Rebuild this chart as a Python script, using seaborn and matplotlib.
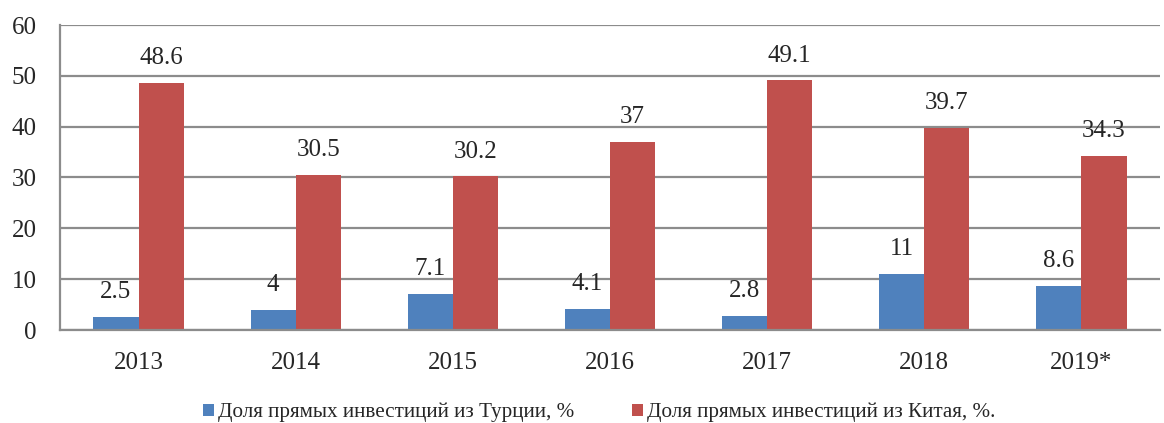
import matplotlib
matplotlib.use("Agg")
import matplotlib.pyplot as plt
import seaborn as sns
import pandas as pd
from matplotlib.patches import Patch
from matplotlib.font_manager import FontProperties

years = ["2013", "2014", "2015", "2016", "2017", "2018", "2019*"]
turkey = [2.5, 4, 7.1, 4.1, 2.8, 11, 8.6]
china = [48.6, 30.5, 30.2, 37, 49.1, 39.7, 34.3]
series = ["Доля прямых инвестиций из Турции, %", "Доля прямых инвестиций из Китая, %."]
labels_t = ["2.5", "4", "7.1", "4.1", "2.8", "11", "8.6"]
labels_c = ["48.6", "30.5", "30.2", "37", "49.1", "39.7", "34.3"]
colors = ["#4F81BD", "#C0504D"]

df = pd.DataFrame({
    "year": years * 2,
    "value": turkey + china,
    "series": [series[0]] * len(years) + [series[1]] * len(years),
})

sns.set_style("white")
plt.rcParams["font.family"] = ["Liberation Serif", "DejaVu Serif"]

fig = plt.figure(figsize=(11.64, 4.23), dpi=100)
ax = fig.add_axes([60 / 1164, 1 - 330 / 423, 1100 / 1164, 305 / 423])

sns.barplot(data=df, x="year", y="value", hue="series", palette=colors,
            width=0.575, ax=ax, legend=False, saturation=1, edgecolor="none")

ax.set_ylim(0, 60)
ax.set_xlim(-0.5, len(years) - 0.5)
ax.set_yticks(range(0, 61, 10))
ax.yaxis.grid(True, color="#8c8c8c", linewidth=1.6)
ax.set_axisbelow(True)
for s in ["top", "right"]:
    ax.spines[s].set_visible(False)
for s in ["left", "bottom"]:
    ax.spines[s].set_color("#8c8c8c")
    ax.spines[s].set_linewidth(1.6)
ax.tick_params(axis="y", length=5.8, color="#8c8c8c", width=1.6, labelsize=18, pad=11)
ax.set_xticks([i - 0.5 for i in range(len(years) + 1)], minor=True)
ax.tick_params(axis="x", which="major", length=0, labelsize=18, pad=16)
ax.tick_params(axis="x", which="minor", length=6, color="#8c8c8c", width=1.6)
ax.set_xlabel("")
ax.set_ylabel("")

for cont, labs in zip(ax.containers, [labels_t, labels_c]):
    ax.bar_label(cont, labels=labs, padding=10, fontsize=18)

handles = [Patch(facecolor=c, edgecolor="none") for c in colors]
fp = FontProperties(family=["Liberation Serif", "DejaVu Serif"], size=15.2)
fig.legend(handles, series, loc="lower center", bbox_to_anchor=(0.515, -0.043), ncol=2,
           frameon=False, prop=fp, handlelength=0.5, handleheight=0.5,
           handletextpad=0.2, columnspacing=2.75)

fig.savefig("out.png", dpi=100)
